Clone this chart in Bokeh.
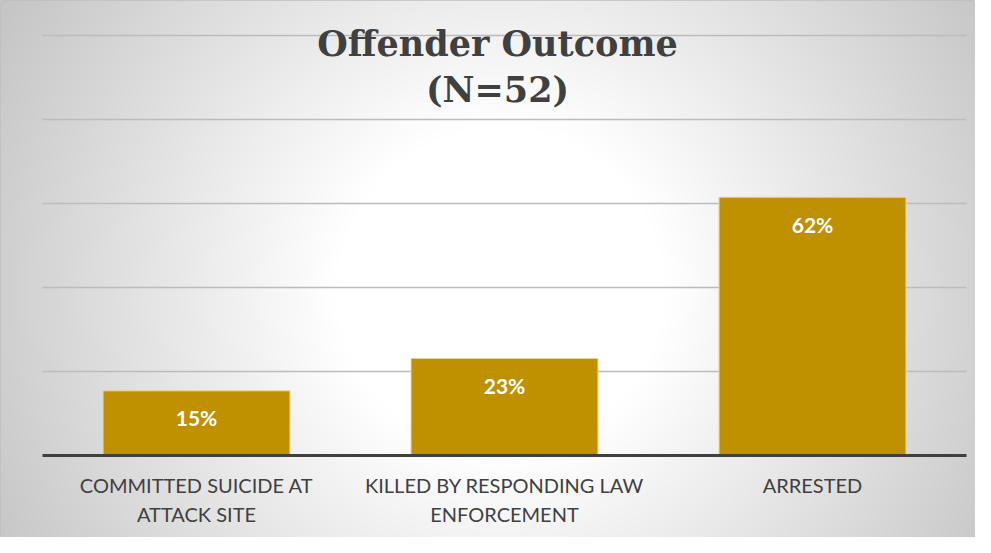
import numpy as np
from bokeh.plotting import figure
from bokeh.models import Range1d, ColumnDataSource
from bokeh.core.properties import value
from bokeh.embed import file_html
from bokeh.resources import INLINE

# ---------------- data ----------------
categories = ["COMMITTED SUICIDE AT\nATTACK SITE",
              "KILLED BY RESPONDING LAW\nENFORCEMENT",
              "ARRESTED"]
percent = [15.4, 23.1, 61.5]
percent_labels = ["15%", "23%", "62%"]
grid_ticks = [20, 40, 60, 80, 100]
title_lines = ["Offender Outcome", "(N=52)"]

# ---------------- layout ----------------
W, H = 975, 537
X0_PX, X_UNIT = 196, 308.0      # pixel of first category centre, px per category
Y0_PX, Y_UNIT = 455, 4.2        # pixel of 0 %, px per percent

def py(px):  # figure pixel (from top) -> data y
    return (Y0_PX - px) / Y_UNIT

def px_x(px):  # figure pixel (from left) -> data x
    return (px - X0_PX) / X_UNIT

x_start, x_end = px_x(0), px_x(W)
y_start, y_end = py(H), py(0)

p = figure(width=W, height=H, x_range=Range1d(x_start, x_end),
           y_range=Range1d(y_start, y_end), output_backend="svg",
           toolbar_location=None, x_axis_location=None, y_axis_location=None,
           min_border=0)
p.grid.visible = False
p.outline_line_color = "#bfbfbf"
p.outline_line_width = 1
p.background_fill_color = "white"
p.border_fill_color = "white"

# radial gradient background
s = 2
nx, ny = (W + s - 1) // s, (H + s - 1) // s
xs = (np.arange(nx) + 0.5) * s
ys = (np.arange(ny) + 0.5) * s
XX, YY = np.meshgrid(xs, ys)
d = np.hypot(XX - 500, YY - 290)
g = np.clip(255 - 0.142 * (d - 165), 196, 255).astype(np.uint8)
img = np.empty((ny, nx), dtype=np.uint32)
view = img.view(dtype=np.uint8).reshape((ny, nx, 4))
view[..., 0] = g
view[..., 1] = g
view[..., 2] = g
view[..., 3] = 255
img = np.ascontiguousarray(np.flipud(img))
p.image_rgba(image=[img], x=x_start, y=y_start - (ny * s - H) / Y_UNIT,
             dw=nx * s / X_UNIT, dh=ny * s / Y_UNIT, level="image")

xpos = list(range(len(categories)))
n = len(categories)

# gridlines
p.segment(x0=[-0.5] * len(grid_ticks), x1=[n - 0.5] * len(grid_ticks),
          y0=grid_ticks, y1=grid_ticks, line_color="#bcbcbc", line_width=1.5)

# bars
src = ColumnDataSource(dict(x=xpos, top=percent, lab=percent_labels, cat=categories,
                            zero=[0] * n))
p.vbar(x="x", top="top", bottom=0, width=0.607, source=src,
       fill_color="#BF9000", line_color="#E8D8A0", line_width=1)

# axis line
p.segment(x0=[-0.5], x1=[n - 0.5], y0=[0], y1=[0], line_color="#404040", line_width=3)

# value labels
p.text(x="x", y="top", text="lab", source=src, y_offset=27,
       text_align="center", text_baseline="middle", text_color="white",
       text_font=value("Lato"), text_font_style="bold", text_font_size="21px")

# category labels
p.text(x="x", y="zero", text="cat", source=src, y_offset=17,
       text_align="center", text_baseline="top", text_color="#404040",
       text_font=value("Lato"), text_font_size="20px", text_line_height=1.22)

# title
p.text(x=[px_x(497)] * 2, y=[py(43), py(89)], text=title_lines,
       text_align="center", text_baseline="alphabetic", text_color="#404040",
       text_font=value("DejaVu Serif"), text_font_style="bold", text_font_size="35px")

open("out.html", "w").write(file_html(p, INLINE))
